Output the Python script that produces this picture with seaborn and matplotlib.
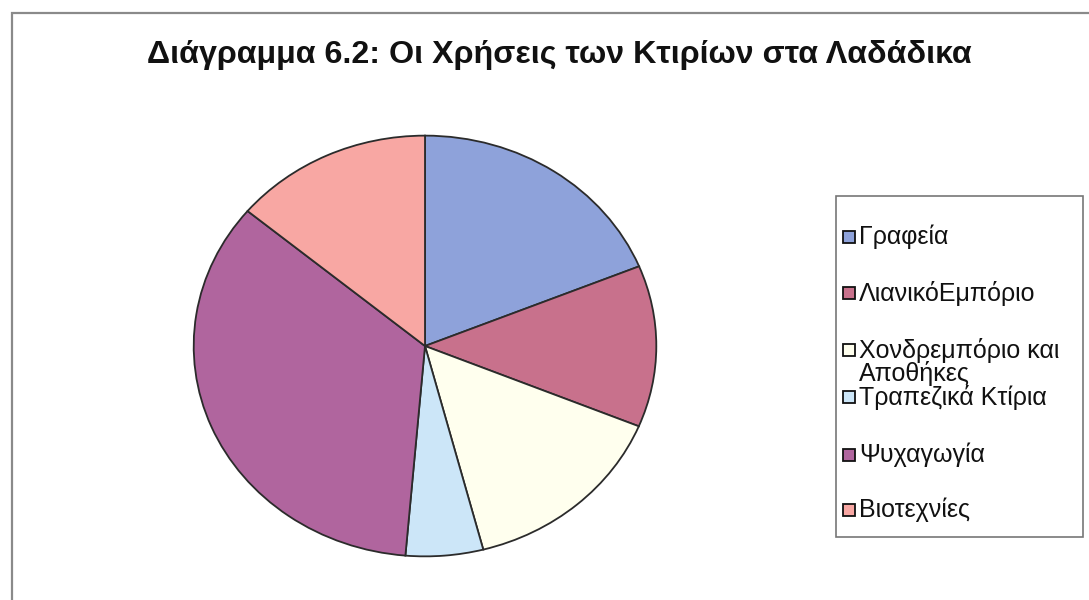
import matplotlib
matplotlib.use("Agg")
import matplotlib.pyplot as plt
import seaborn as sns
from matplotlib.patches import Rectangle

categories = ["Γραφεία", "ΛιανικόΕμπόριο", "Χονδρεμπόριο και\nΑποθήκες",
              "Τραπεζικά Κτίρια", "Ψυχαγωγία", "Βιοτεχνίες"]
values = [18.8, 12.4, 14.7, 5.4, 34.7, 13.9]
colors = ["#8EA2DA", "#C8718C", "#FFFFEE", "#CCE6F8", "#B0659E", "#F8A7A3"]
title = "Διάγραμμα 6.2: Οι Χρήσεις των Κτιρίων στα Λαδάδικα"

sns.set_theme(style="white")
plt.rcParams['font.family'] = ['Liberation Sans', 'DejaVu Sans']

W, H = 1089, 600
fig = plt.figure(figsize=(W / 100, H / 100), dpi=100)
fig.patch.set_facecolor("white")

def fx(px):
    return px / W

def fy(py):
    return 1 - py / H

# outer chart frame
fig.add_artist(Rectangle((fx(12), -0.01), 1.1, (600 - 13) / H + 0.01,
                         transform=fig.transFigure, fill=False,
                         edgecolor="#8a8a8a", linewidth=1.6))

# pie axes placed in pixel coordinates
cx, cy, rx, ry = 425, 346, 232, 211
ax = fig.add_axes([fx(cx - rx), fy(cy + ry), 2 * rx / W, 2 * ry / H])
ax.pie(values, colors=colors, startangle=90, counterclock=False,
       wedgeprops=dict(edgecolor="#2b2b2b", linewidth=1.3))
ax.set_xlim(-1.003, 1.003)
ax.set_ylim(-1.003, 1.003)
ax.set_aspect("auto")
ax.axis("off")

fig.text(fx(559), fy(55), title, ha="center", va="center",
         fontsize=23.2, fontweight="bold", color="#111111")

# legend (Excel-style box, drawn by hand)
fig.add_artist(Rectangle((fx(836), fy(537)), fx(1083) - fx(836), (537 - 196) / H,
                         transform=fig.transFigure, fill=True, facecolor="white",
                         edgecolor="#777777", linewidth=1.2))
legend_y = [237, 293, 350, 397, 455, 510]
for lab, col, y in zip(categories, colors, legend_y):
    fig.add_artist(Rectangle((fx(843), fy(y + 6)), 12 / W, 12 / H,
                             transform=fig.transFigure, facecolor=col,
                             edgecolor="#111111", linewidth=1.3))
    if "\n" in lab:
        fig.text(fx(859), fy(y - 12), lab, ha="left", va="top",
                 fontsize=18, color="#111111", linespacing=0.92)
    else:
        fig.text(fx(859), fy(y), lab, ha="left", va="center",
                 fontsize=18, color="#111111")

fig.savefig("out.png", dpi=100, facecolor="white")
